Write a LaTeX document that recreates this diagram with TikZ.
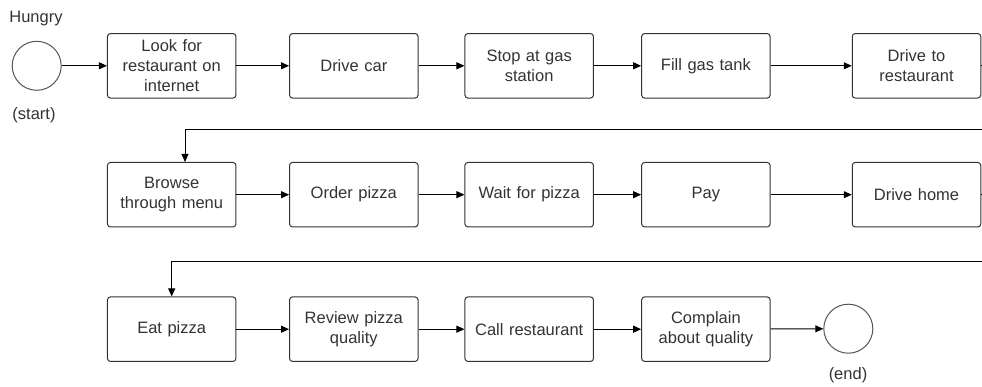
\documentclass[tikz,border=0pt]{standalone}
\usepackage{fontspec}
\setmainfont{Liberation Sans}
\usetikzlibrary{arrows.meta}
\definecolor{ink}{HTML}{333333}
\definecolor{rim}{HTML}{555555}
\tikzset{
  stepbox/.style={draw=ink, line width=1pt, rounded corners=3pt,
    minimum width=128.5pt, minimum height=64.5pt, align=center,
    inner sep=2pt, text=ink, text width=120pt,
    font=\fontsize{16.5}{20.3}\selectfont},
  event/.style={draw=rim, line width=1pt, circle, minimum size=49pt, inner sep=0pt},
  caption/.style={text=ink, inner sep=0pt, font=\fontsize{16.5}{20}\selectfont},
  flow/.style={draw=black, line width=1pt, -{Triangle[length=8pt,width=7pt]}},
}
\begin{document}
\begin{tikzpicture}[x=1pt, y=-1pt]
\useasboundingbox (0,0) rectangle (982,387);
\clip (0,0) rectangle (982,387);

% row 1
\node[event] (start) at (36.7,65.8) {};
\node[caption] (hungry) at (36,19) {Hungry};
\node[caption] (startlbl) at (34,115) {(start)};
\node[stepbox] (look)  at (171.7,65.8) {Look for\\restaurant on\\internet};
\node[stepbox] (car)   at (353.8,65.8) {Drive car};
\node[stepbox] (stop)  at (529.2,65.8) {Stop at gas\\station};
\node[stepbox] (fill)  at (705.9,65.8) {Fill gas tank};
\node[stepbox] (dtr)   at (916.5,65.8) {Drive to\\restaurant};

% row 2
\node[stepbox] (browse) at (171.7,194.7) {Browse\\through menu};
\node[stepbox] (order)  at (353.8,194.7) {Order pizza};
\node[stepbox] (wait)   at (529.2,194.7) {Wait for pizza};
\node[stepbox] (pay)    at (705.9,194.7) {Pay};
\node[stepbox] (home)   at (916.5,194.7) {Drive home};

% row 3
\node[stepbox] (eat)      at (171.7,329.2) {Eat pizza};
\node[stepbox] (review)   at (353.8,329.2) {Review pizza\\quality};
\node[stepbox] (call)     at (529.2,329.2) {Call restaurant};
\node[stepbox] (complain) at (705.9,329.2) {Complain\\about quality};
\node[event] (end) at (848.3,328.7) {};
\node[caption] (endlbl) at (848,375) {(end)};

% turning points of the row-to-row connectors
\coordinate (r1a) at (996,65.8);
\coordinate (r1b) at (996,130);
\coordinate (r1c) at (185,130);
\coordinate (r2a) at (996,194.7);
\coordinate (r2b) at (996,261.7);
\coordinate (r2c) at (171.7,261.7);

% connectors
\draw[flow] (start) -- (look);
\draw[flow] (look) -- (car);
\draw[flow] (car) -- (stop);
\draw[flow] (stop) -- (fill);
\draw[flow] (fill) -- (dtr);
\draw[flow] (dtr.east) -- (r1a) -- (r1b) -- (r1c) -- (r1c |- browse.north);
\draw[flow] (browse) -- (order);
\draw[flow] (order) -- (wait);
\draw[flow] (wait) -- (pay);
\draw[flow] (pay) -- (home);
\draw[flow] (home.east) -- (r2a) -- (r2b) -- (r2c) -- (eat.north);
\draw[flow] (eat) -- (review);
\draw[flow] (review) -- (call);
\draw[flow] (call) -- (complain);
\draw[flow] (complain) -- (end);
\end{tikzpicture}
\end{document}
